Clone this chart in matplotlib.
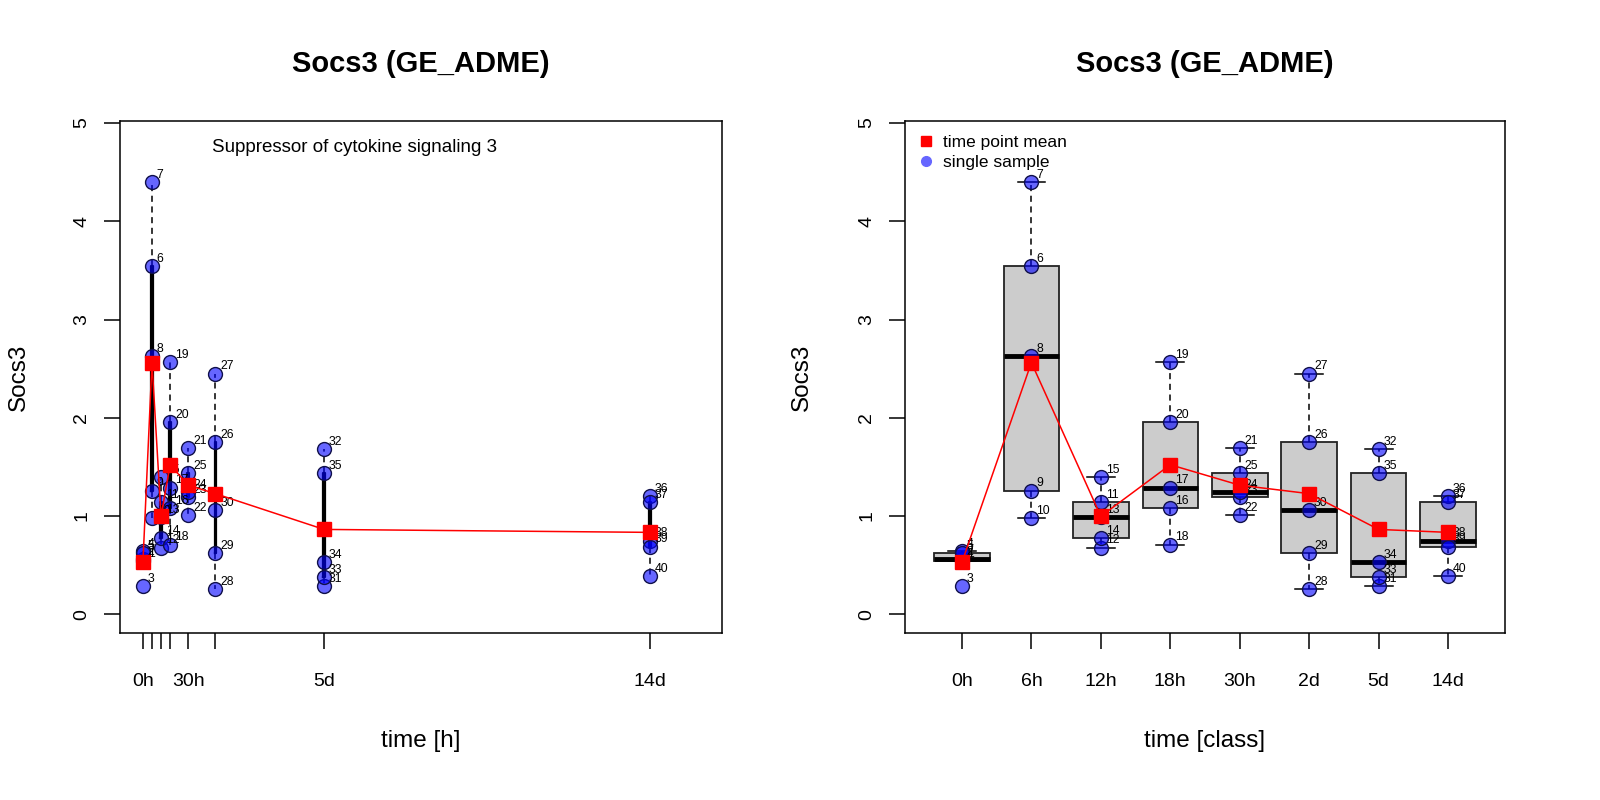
import numpy as np
import matplotlib.pyplot as plt
from matplotlib.lines import Line2D

plt.rcParams['font.family'] = ['Liberation Sans', 'DejaVu Sans']

title = 'Socs3 (GE_ADME)'
gene = 'Socs3'
description = 'Suppressor of cytokine signaling 3'

time_classes = ['0h', '6h', '12h', '18h', '30h', '2d', '5d', '14d']
time_hours = [0, 6, 12, 18, 30, 48, 120, 336]
hour_tick_labels = ['0h', '', '', '', '30h', '', '5d', '14d']

# 40 samples, 5 per time class
sample_ids = list(range(1, 41))
sample_class = [0] * 5 + [1] * 5 + [2] * 5 + [3] * 5 + [4] * 5 + [5] * 5 + [6] * 5 + [7] * 5
socs3 = [0.54, 0.56, 0.29, 0.64, 0.62,
         3.54, 4.40, 2.63, 1.26, 0.98,
         1.14, 0.68, 0.99, 0.78, 1.40,
         1.08, 1.29, 0.71, 2.57, 1.96,
         1.69, 1.01, 1.19, 1.24, 1.44,
         1.75, 2.45, 0.26, 0.62, 1.06,
         0.29, 1.68, 0.38, 0.53, 1.44,
         1.20, 1.14, 0.75, 0.69, 0.39]

vals = np.array(socs3)
cls = np.array(sample_class)
groups = [vals[cls == k] for k in range(len(time_classes))]
means = [g.mean() for g in groups]

pt_face = (0, 0, 1, 0.6)
pt_edge = '#10104a'

fig = plt.figure(figsize=(16, 8), dpi=100)
ax1 = fig.add_axes([0.075, 0.20875, 0.37625, 0.64])
ax2 = fig.add_axes([0.565625, 0.20875, 0.375, 0.64])


def style_axes(ax):
    for s in ax.spines.values():
        s.set_linewidth(1.1)
    ax.set_ylim(-0.19, 5.02)
    ax.set_yticks(range(6))
    ax.tick_params(axis='both', length=11.5, width=1.1, labelsize=14)
    ax.tick_params(axis='y', labelrotation=90, pad=10)
    ax.tick_params(axis='x', pad=17)
    for t in ax.get_yticklabels():
        t.set_va('center')
    ax.text(0.5, 1.112, title, transform=ax.transAxes, ha='center', va='center',
            fontsize=21, fontweight='bold')


def draw_points(ax, xs):
    ax.scatter(xs, vals, s=100, facecolor=pt_face, edgecolor=pt_edge, linewidth=1.0, zorder=3)
    for x, y, i in zip(xs, vals, sample_ids):
        ax.annotate(str(i), (x, y), xytext=(3.5, 3), textcoords='offset points',
                    fontsize=8.8, zorder=4)


# left: time in hours
ax1.boxplot(groups, positions=time_hours, widths=1.0, manage_ticks=False,
            showfliers=False, showcaps=False,
            boxprops=dict(color='black', linewidth=1.6),
            medianprops=dict(color='black', linewidth=1.6),
            whiskerprops=dict(color='black', linewidth=1.1, linestyle=(0, (4, 3))))
x_hours = np.array(time_hours)[cls]
draw_points(ax1, x_hours)
ax1.plot(time_hours, means, color='red', linewidth=1.1, zorder=5)
ax1.plot(time_hours, means, 's', color='red', markersize=9.4, zorder=6)
ax1.set_xlim(-15.2, 383.7)
ax1.set_xticks(time_hours)
ax1.set_xticklabels(hour_tick_labels)
ax1.text(0.39, 0.949, description, transform=ax1.transAxes, ha='center', va='center',
         fontsize=13.5)
style_axes(ax1)
ax1.set_xlabel('time [h]', fontsize=17.5)
ax1.set_ylabel(gene, fontsize=17.5)
ax1.xaxis.set_label_coords(0.5, -0.19)
ax1.yaxis.set_label_coords(-0.15, 0.5)

# right: time classes
pos = np.arange(1, len(time_classes) + 1)
ax2.boxplot(groups, positions=pos, widths=0.8, manage_ticks=False, patch_artist=True,
            showfliers=False, capwidths=0.4,
            boxprops=dict(facecolor='#cccccc', edgecolor='#222222', linewidth=1.3),
            medianprops=dict(color='black', linewidth=3.5),
            whiskerprops=dict(color='black', linewidth=1.1, linestyle=(0, (4, 3))),
            capprops=dict(color='black', linewidth=1.1))
draw_points(ax2, pos[cls])
ax2.plot(pos, means, color='red', linewidth=1.1, zorder=5)
ax2.plot(pos, means, 's', color='red', markersize=9.4, zorder=6)
ax2.set_xlim(0.18, 8.82)
ax2.set_xticks(pos)
ax2.set_xticklabels(time_classes)
style_axes(ax2)
ax2.set_xlabel('time [class]', fontsize=17.5)
ax2.set_ylabel(gene, fontsize=17.5)
ax2.xaxis.set_label_coords(0.5, -0.19)
ax2.yaxis.set_label_coords(-0.153, 0.5)

handles = [Line2D([], [], marker='s', linestyle='none', color='red', markersize=7),
           Line2D([], [], marker='o', linestyle='none', color=(0.4, 0.4, 1.0), markersize=7)]
ax2.legend(handles, ['time point mean', 'single sample'], loc='upper left', frameon=False,
           fontsize=12.5, handlelength=0.8, handletextpad=0.6, borderaxespad=0.5,
           labelspacing=0.28, borderpad=0.3)

fig.savefig('out.png', dpi=100)
